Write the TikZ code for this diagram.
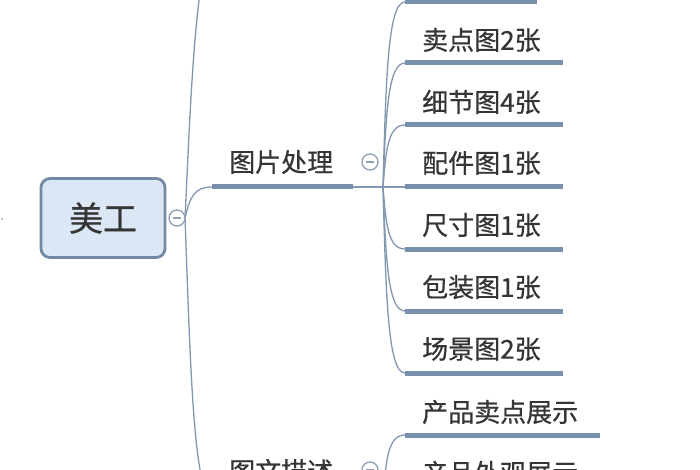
\documentclass[tikz,border=0pt]{standalone}
\usepackage{fontspec}
\newfontfamily\cjk[FakeBold=0.6]{Noto Sans CJK SC}
\definecolor{linec}{HTML}{8497B0}
\definecolor{thickc}{HTML}{7890AD}
\definecolor{txt}{HTML}{353535}
\definecolor{boxf}{HTML}{DCE7F5}
\definecolor{boxc}{HTML}{7388A3}
\definecolor{togc}{HTML}{8DA0B8}
\begin{document}
\begin{tikzpicture}[x=1pt,y=-1pt,
  lbl/.style={font=\cjk\fontsize{26}{26}\selectfont, text=txt, anchor=west, inner sep=0pt},
  rootbox/.style={rounded corners=9pt, draw=boxc, line width=2.8pt, fill=boxf,
    minimum width=124pt, minimum height=79pt, font=\cjk\fontsize{34}{34}\selectfont, text=txt},
  under/.style={draw=thickc, line width=5pt},
  conn/.style={draw=linec, line width=1.3pt},
  tog/.style={circle, draw=togc, line width=1.3pt, fill=white, minimum size=16pt, inner sep=0pt},
  togminus/.style={draw=togc, line width=1.2pt}]
\useasboundingbox (0,0) rectangle (700,470);
\clip (0,0) rectangle (700,470);
\fill[white] (0,0) rectangle (700,470);
% tiny mark at the left edge
\fill[linec!70] (2,219) circle (1.2pt);
% root
\node[rootbox] (root) at (103,218) {美工};
\coordinate (rp) at (185,218);
\coordinate (upend) at (215,-70);
\coordinate (p1s) at (212,187);
\coordinate (p1e) at (353,187);
\coordinate (p2s) at (212,497);
% level-1 connectors
\draw[conn] (rp) .. controls (190,120) and (194,-30) .. (upend);
\draw[conn] (rp) .. controls (190,196) and (195,187) .. (p1s);
\draw[conn] (rp) .. controls (190,350) and (193,497) .. (p2s);
\node[tog] (t0) at (177,218) {};
\draw[togminus] ([xshift=-4pt]t0.center) -- ([xshift=4pt]t0.center);
% branch 图片处理
\node[lbl] (n1) at (229,162) {图片处理};
\draw[under] (p1s) -- (p1e);
\node[tog] (t1) at (370,162) {};
\draw[togminus] ([xshift=-4pt]t1.center) -- ([xshift=4pt]t1.center);
\coordinate (b1) at (383,187);
\draw[conn] (p1e) -- (b1);
\foreach \i/\yy/\xe in {0/2/537,1/63/563,2/125/563,3/187/563,4/249/563,5/311/563,6/373/563}{
  \coordinate (us\i) at (405,\yy);
  \coordinate (ue\i) at (\xe,\yy);
  \draw[conn] (b1) .. controls (386,{187+0.6*(\yy-187)}) and (388,\yy) .. (us\i);
  \draw[under] (us\i) -- (ue\i);
}
\node[lbl] (l1) at (422,40) {卖点图2张};
\node[lbl] (l2) at (422,102) {细节图4张};
\node[lbl] (l3) at (422,163) {配件图1张};
\node[lbl] (l4) at (422,225) {尺寸图1张};
\node[lbl] (l5) at (422,287) {包装图1张};
\node[lbl] (l6) at (422,349) {场景图2张};
% branch 图文描述
\node[lbl] (n2) at (229,471) {图文描述};
\node[tog] (t2) at (370,470) {};
\draw[togminus] ([xshift=-4pt]t2.center) -- ([xshift=4pt]t2.center);
\coordinate (b2) at (383,497);
\coordinate (vs1) at (405,435);
\coordinate (ve1) at (600,435);
\draw[conn] (b2) .. controls (386,460) and (388,435) .. (vs1);
\draw[under] (vs1) -- (ve1);
\node[lbl] (m1) at (422,412) {产品卖点展示};
\node[lbl] (m2) at (422,473) {产品外观展示};
\end{tikzpicture}
\end{document}
